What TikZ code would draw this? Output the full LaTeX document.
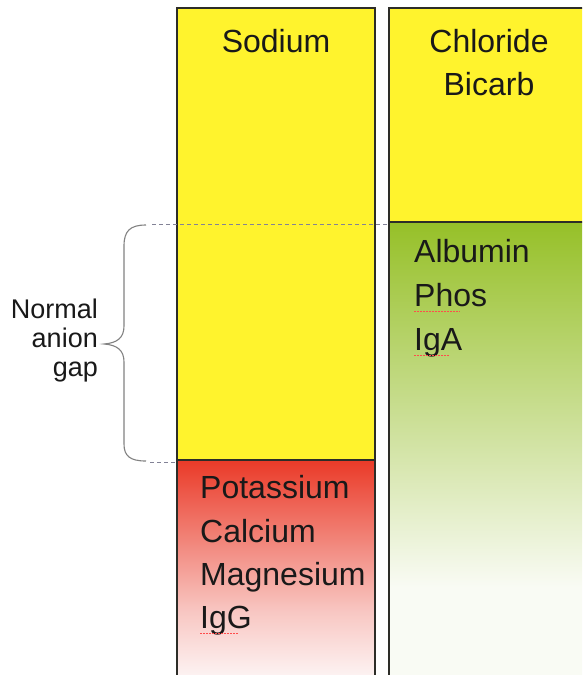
\documentclass[tikz,border=0pt]{standalone}
\usepackage{fontspec}
\setmainfont{Liberation Sans}
\definecolor{yel}{RGB}{255,243,45}
\definecolor{redtop}{RGB}{234,58,40}
\definecolor{redbot}{RGB}{253,246,246}
\definecolor{grntop}{RGB}{150,192,40}
\definecolor{grnmid}{RGB}{208,226,160}
\definecolor{grnbot}{RGB}{249,251,244}
\definecolor{txt}{RGB}{25,25,25}
\definecolor{edge}{RGB}{45,45,40}
\definecolor{dash}{RGB}{130,130,150}
\definecolor{bracec}{RGB}{130,130,130}
\pgfdeclareverticalshading{greenfade}{100bp}{color(0bp)=(grnbot); color(36bp)=(grnbot); color(52bp)=(grnmid); color(75bp)=(grntop); color(100bp)=(grntop)}
\pgfdeclareverticalshading{redfade}{100bp}{color(0bp)=(redbot); color(27bp)=(redbot); color(42bp)=(redbot!75!redtop); color(75bp)=(redtop); color(100bp)=(redtop)}
\tikzset{
  big/.style={font=\fontsize{32}{43}\selectfont, text=txt, inner sep=0pt},
  small/.style={font=\fontsize{27}{29}\selectfont, text=txt, inner sep=0pt},
  boxedge/.style={draw=edge, line width=1.6pt},
  guide/.style={draw=dash, line width=1pt, dash pattern=on 4pt off 3pt},
  squig/.style={draw=red!70, line width=0.8pt, dash pattern=on 1.5pt off 1.5pt},
}
\begin{document}
\begin{tikzpicture}[x=1pt,y=-1pt]
\useasboundingbox (0,0) rectangle (582,675);
\fill[white] (0,0) rectangle (582,675);
\begin{scope}
\clip (0,0) rectangle (582,675);
% left column
\fill[yel] (177,8) rectangle (375,460);
\shade[shading=redfade] (177,460) rectangle (375,690);
\draw[boxedge] (177,690) -- (177,8) -- (375,8) -- (375,690);
\draw[boxedge] (177,460) -- (375,460);
% right column
\fill[yel] (389,8) rectangle (600,222);
\shade[shading=greenfade] (389,222) rectangle (600,690);
\draw[boxedge] (389,690) -- (389,8) -- (600,8);
\draw[boxedge] (389,222) -- (600,222);
\end{scope}
% guide lines
\coordinate (g1a) at (152,224);
\coordinate (g1b) at (388,224);
\coordinate (g2a) at (150,462);
\coordinate (g2b) at (176,462);
\draw[guide] (g1a) -- (g1b);
\draw[guide] (g2a) -- (g2b);
% brace
\draw[bracec, line width=1.1pt]
  (146,225) .. controls (130,225) and (124,231) .. (124,246)
  -- (124,326) .. controls (124,338) and (117,343) .. (104,344)
  .. controls (117,345) and (124,350) .. (124,362)
  -- (124,444) .. controls (124,456) and (130,461) .. (146,461);
% texts
\node[big, anchor=base] (sodium) at (276,52) {Sodium};
\node[big, anchor=base] (chloride) at (489,52) {Chloride};
\node[big, anchor=base] (bicarb) at (489,95) {Bicarb};
\node[big, anchor=base west] (albumin) at (414,262) {Albumin};
\node[big, anchor=base west] (phos) at (414,306) {Phos};
\node[big, anchor=base west] (iga) at (414,350) {IgA};
\node[big, anchor=base west] (potassium) at (200,498) {Potassium};
\node[big, anchor=base west] (calcium) at (200,542) {Calcium};
\node[big, anchor=base west] (magnesium) at (200,585) {Magnesium};
\node[big, anchor=base west] (igg) at (200,628) {IgG};
\node[small, anchor=base east] (normal) at (98,318) {Normal};
\node[small, anchor=base east] (anion) at (98,347) {anion};
\node[small, anchor=base east] (gap) at (98,376) {gap};
% spell-check underlines
\draw[squig] (phos.base west) ++(0,5) -- ++(46,0);
\draw[squig] (iga.base west) ++(0,5) -- ++(36,0);
\draw[squig] (igg.base west) ++(0,5) -- ++(38,0);
\end{tikzpicture}
\end{document}
